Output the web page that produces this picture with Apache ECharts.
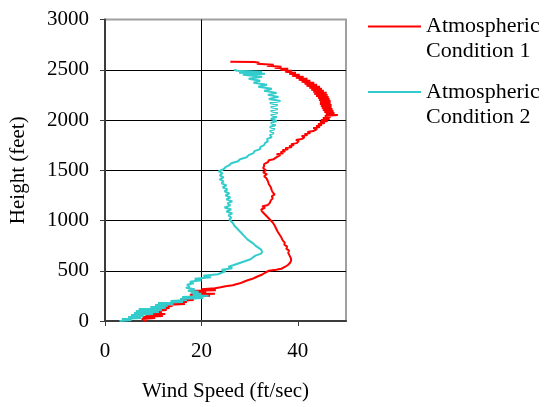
<!DOCTYPE html>
<html><head><meta charset="utf-8">
<script src="https://cdn.jsdelivr.net/npm/echarts@6/dist/echarts.min.js"></script>
<style>html,body{margin:0;padding:0;background:#fff}#c{width:545px;height:407px}</style>
</head><body><div id="c"></div>
<script>
const seriesNames = ['Atmospheric\nCondition 1', 'Atmospheric\nCondition 2'];
const xTickValues = [0, 20, 40];
const xAxisTitle = 'Wind Speed (ft/sec)';
const yAxisTitle = 'Height (feet)';

// Condition 1 (red): height (ft) and wind speed (ft/sec)
const heights1 = [0,10,20,30,40,50,60,70,80,90,100,110,120,130,140,150,160,170,180,190,200,210,220,230,240,250,260,270,280,290,300,305,315,325,335,345,355,365,375,390,405,420,440,460,480,500,510,520,540,560,580,600,620,640,660,680,700,720,740,760,780,800,830,860,890,920,950,980,1010,1040,1070,1090,1110,1125,1140,1155,1175,1200,1220,1240,1260,1280,1300,1330,1360,1390,1420,1440,1460,1480,1500,1520,1540,1560,1580,1600,1610,1620,1630,1640,1650,1660,1670,1680,1690,1700,1710,1720,1730,1740,1750,1760,1770,1780,1790,1800,1810,1820,1830,1840,1850,1860,1870,1880,1890,1900,1910,1920,1930,1940,1950,1960,1970,1980,1990,2000,2010,2020,2030,2040,2050,2060,2070,2080,2090,2100,2110,2120,2130,2140,2150,2160,2170,2180,2190,2200,2210,2220,2230,2240,2250,2260,2270,2280,2290,2300,2310,2320,2330,2340,2350,2360,2370,2380,2390,2400,2410,2420,2430,2440,2450,2460,2470,2480,2490,2500,2510,2520,2530,2540,2550,2560,2570,2578,2580];
const speeds1 = [8.0,8.6,7.6,10.4,7.8,12.0,8.4,12.5,9.4,11.8,9.6,12.8,10.2,13.4,11.0,14.0,12.4,16.6,13.2,17.0,14.8,18.4,15.6,19.0,17.4,21.8,17.6,22.8,18.0,21.0,17.4,23.0,20.0,22.8,24.0,25.0,26.5,27.2,28.0,28.8,29.6,30.6,31.5,32.5,33.2,34.0,35.5,36.6,37.4,38.0,38.4,38.6,38.6,38.4,38.2,38.0,38.2,37.6,37.8,37.2,37.3,36.9,36.6,36.2,35.8,35.5,35.2,34.8,34.2,33.6,33.0,32.6,32.4,33.2,32.6,33.8,34.2,34.4,34.8,34.6,35.2,34.8,34.6,34.4,34.0,33.8,33.5,33.0,33.6,32.8,33.4,32.8,33.0,33.0,33.8,34.0,35.0,34.6,35.6,35.2,36.4,35.6,37.0,36.4,37.4,36.8,38.0,37.4,38.8,38.2,39.2,38.6,39.8,39.4,40.2,39.6,40.8,40.4,41.4,40.8,42.0,41.4,42.6,42.0,43.2,43.0,44.0,43.2,44.6,43.8,45.0,44.2,45.6,44.6,46.2,44.8,46.6,45.2,46.8,45.6,48.3,45.8,47.6,45.5,47.4,45.2,47.2,45.0,47.0,44.8,47.0,44.6,46.8,44.6,46.8,44.4,46.6,44.2,46.4,43.8,46.2,43.4,46.0,43.2,45.4,42.8,45.0,42.4,44.6,41.8,44.0,41.4,43.4,40.8,42.6,40.2,42.0,39.6,41.2,38.8,40.4,38.2,39.6,37.4,38.8,36.4,38.0,35.2,36.6,33.6,35.0,31.5,32.0,31.0,26.0];

// Condition 2 (cyan)
const heights2 = [0,10,20,30,40,50,60,70,80,90,100,110,120,130,140,150,160,170,180,190,200,210,220,230,240,250,260,270,280,290,300,315,330,345,360,375,390,405,420,435,450,465,480,495,510,525,540,555,570,585,600,615,630,650,670,690,710,730,750,770,790,810,830,850,870,890,910,930,950,970,990,1010,1030,1050,1070,1090,1110,1130,1150,1170,1190,1210,1230,1250,1270,1290,1310,1330,1350,1370,1390,1410,1430,1450,1470,1490,1510,1530,1550,1570,1590,1610,1630,1650,1670,1690,1710,1730,1750,1770,1790,1810,1830,1850,1870,1890,1910,1930,1950,1970,1990,2010,2030,2050,2070,2090,2110,2130,2150,2170,2190,2210,2230,2250,2270,2290,2310,2330,2350,2370,2390,2410,2430,2450,2460,2470,2480,2490,2500];
const speeds2 = [3.0,5.5,3.5,7.5,4.8,8.0,5.4,10.0,6.0,11.2,6.4,11.8,7.0,12.6,9.4,13.0,10.4,14.2,11.0,16.2,13.6,17.0,15.6,20.4,16.0,21.5,18.2,20.0,17.8,19.4,17.2,18.6,16.8,17.6,17.0,18.4,17.6,20.0,18.6,22.0,20.4,23.4,23.0,25.0,24.2,26.4,25.6,26.6,26.2,28.4,28.2,30.2,30.0,31.2,32.4,32.6,32.4,31.8,31.2,30.8,30.2,29.6,29.2,28.8,28.4,28.0,27.6,27.2,26.8,26.6,26.2,25.8,26.2,25.6,26.4,25.2,26.2,24.8,26.0,25.4,26.4,25.2,26.0,25.0,25.8,24.8,25.4,24.4,25.2,24.2,24.6,23.8,24.6,23.8,24.4,23.6,24.6,25.0,25.8,26.2,27.6,28.0,29.4,29.8,30.8,31.0,32.2,32.2,33.0,33.2,33.8,33.6,34.6,34.2,35.0,34.2,35.2,34.2,35.4,34.4,35.6,34.4,35.6,34.4,35.8,34.4,35.8,34.4,35.8,34.2,36.4,34.0,36.0,33.8,35.6,33.0,34.6,31.8,33.6,30.8,32.2,29.8,32.6,28.6,33.2,27.8,32.6,27.4,26.8];

const pairs = (hs, ss) => hs.map((h, i) => [ss[i], h]);
const serif = 'Liberation Serif, Times New Roman, serif';
const plain = v => String(v);

const chart = echarts.init(document.getElementById('c'), null, {renderer: 'canvas'});
chart.setOption({
  animation: false,
  backgroundColor: '#fff',
  grid: {left: 105, right: 199, top: 19.5, bottom: 86, show: true, borderColor: '#a0a0a0', borderWidth: 2, backgroundColor: 'transparent', containLabel: false, outerBoundsMode: 'none'},
  legend: {
    orient: 'vertical', left: 367, top: -11, padding: 0, itemGap: -9.5,
    itemWidth: 53, itemHeight: 14,
    data: seriesNames,
    formatter: name => '\n' + name,
    itemStyle: {opacity: 0},
    textStyle: {fontFamily: serif, fontSize: 22, lineHeight: 25, color: '#000'}
  },
  xAxis: {
    type: 'value', min: 0, max: 50, interval: 20,
    name: xAxisTitle, nameLocation: 'middle', nameGap: 60,
    nameTextStyle: {fontFamily: serif, fontSize: 21, color: '#000'},
    axisLine: {show: true, onZero: false, lineStyle: {color: '#3c3c3c', width: 2}},
    axisTick: {show: true, inside: false, length: 5, customValues: xTickValues, lineStyle: {color: '#3c3c3c', width: 1}},
    axisLabel: {fontFamily: serif, fontSize: 21, color: '#000', margin: 20, formatter: plain, showMaxLabel: false},
    splitLine: {show: true, showMaxLine: false, lineStyle: {color: '#000', width: 1}}
  },
  yAxis: {
    type: 'value', min: 0, max: 3000, interval: 500,
    name: yAxisTitle, nameLocation: 'middle', nameGap: 76,
    nameTextStyle: {fontFamily: serif, fontSize: 21, color: '#000'},
    axisLine: {show: true, onZero: false, lineStyle: {color: '#3c3c3c', width: 2}},
    axisTick: {show: true, inside: false, length: 5, lineStyle: {color: '#3c3c3c', width: 1}},
    axisLabel: {fontFamily: serif, fontSize: 21, color: '#000', margin: 16, formatter: plain},
    splitLine: {show: true, showMaxLine: false, lineStyle: {color: '#000', width: 1}}
  },
  series: [
    {name: seriesNames[0], type: 'line', data: pairs(heights1, speeds1), showSymbol: false, symbol: 'none', color: '#ff0000', lineStyle: {color: '#ff0000', width: 2}, emphasis: {disabled: true}},
    {name: seriesNames[1], type: 'line', data: pairs(heights2, speeds2), showSymbol: false, symbol: 'none', color: '#33cccc', lineStyle: {color: '#33cccc', width: 2}, emphasis: {disabled: true}}
  ]
});
</script></body></html>
